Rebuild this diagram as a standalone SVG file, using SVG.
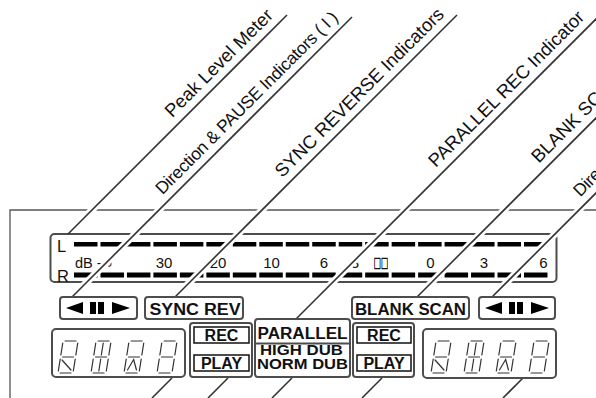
<svg xmlns="http://www.w3.org/2000/svg" width="596" height="398" viewBox="0 0 596 398">
<defs>
<style>
.lbl{font-family:"Liberation Sans",Arial,sans-serif;font-size:18.5px;fill:#111}
.lbl2{font-family:"Liberation Sans",Arial,sans-serif;font-size:17.5px;fill:#111}
.bx{fill:#fff;stroke:#4d4d4d;stroke-width:2}
.ib{fill:none;stroke:#111;stroke-width:1.5}
.bt{font-family:"Liberation Sans",Arial,sans-serif;font-weight:bold;font-size:16px;fill:#111;text-anchor:middle}
.bs{font-family:"Liberation Sans",Arial,sans-serif;font-weight:bold;font-size:14.5px;fill:#111;text-anchor:middle}
.sc{font-family:"Liberation Sans",Arial,sans-serif;font-size:15px;fill:#111;text-anchor:middle}
.lr{font-family:"Liberation Sans",Arial,sans-serif;font-size:16.5px;fill:#111}
.halo{stroke:#fff;stroke-width:7;fill:none}
.lead{stroke:#333;stroke-width:1.6;fill:none}
.seg{fill:none;stroke:#333;stroke-width:1.2;stroke-linecap:round}
.panel{fill:none;stroke:#555;stroke-width:1.3}
</style>
<g id="dir-icon" fill="#000">
<path d="M0,6 L17,0 V12 Z"/>
<rect x="24" y="0" width="6" height="12"/>
<rect x="32" y="0" width="6" height="12"/>
<path d="M46,0 L64,6 L46,12 Z"/>
</g>
<path id="d8" class="seg" d="M2,-32H13M0,-30V-18M15,-30V-18M2,-16H13M0,-14V-2M15,-14V-2M2,0H13"/>
</defs>

<g id="panel">
<path class="panel" d="M10,398 V210 H596"/>
</g>

<g id="meter">
<rect class="bx" x="50.5" y="234" width="506" height="48" rx="4"/>
<text class="lr" x="57" y="251.5">L</text>
<text class="lr" x="57" y="281.5">R</text>
<path fill="#000" d="M74,242h23.5v4.5h-23.5z m26.47,0h23.5v4.5h-23.5z m26.47,0h23.5v4.5h-23.5z m26.47,0h23.5v4.5h-23.5z m26.47,0h23.5v4.5h-23.5z m26.47,0h23.5v4.5h-23.5z m26.47,0h23.5v4.5h-23.5z m26.47,0h23.5v4.5h-23.5z m26.47,0h23.5v4.5h-23.5z m26.47,0h23.5v4.5h-23.5z m26.47,0h23.5v4.5h-23.5z m26.47,0h23.5v4.5h-23.5z m26.47,0h23.5v4.5h-23.5z m26.47,0h23.5v4.5h-23.5z m26.47,0h23.5v4.5h-23.5z m26.47,0h23.5v4.5h-23.5z m26.47,0h23.5v4.5h-23.5z m26.47,0h23.5v4.5h-23.5z"/>
<path fill="#000" d="M74,272.5h23.5v5h-23.5z m26.47,0h23.5v5h-23.5z m26.47,0h23.5v5h-23.5z m26.47,0h23.5v5h-23.5z m26.47,0h23.5v5h-23.5z m26.47,0h23.5v5h-23.5z m26.47,0h23.5v5h-23.5z m26.47,0h23.5v5h-23.5z m26.47,0h23.5v5h-23.5z m26.47,0h23.5v5h-23.5z m26.47,0h23.5v5h-23.5z m26.47,0h23.5v5h-23.5z m26.47,0h23.5v5h-23.5z m26.47,0h23.5v5h-23.5z m26.47,0h23.5v5h-23.5z m26.47,0h23.5v5h-23.5z m26.47,0h23.5v5h-23.5z m26.47,0h23.5v5h-23.5z"/>
<text class="sc" x="75" y="268" style="text-anchor:start;font-size:14.5px">dB -∞</text>
<text class="sc" x="164" y="268">30</text>
<text class="sc" x="218" y="268">20</text>
<text class="sc" x="271.5" y="268">10</text>
<text class="sc" x="324" y="268">6</text>
<text class="sc" x="355" y="268">3</text>
<text class="sc" transform="translate(381,268) scale(0.55,1)" x="0" y="0" style="font-family:'Noto Sans CJK SC',sans-serif;font-size:13px;fill:#000;stroke:#000;stroke-width:0.6">□□</text>
<text class="sc" x="430.5" y="268">0</text>
<text class="sc" x="484" y="268">3</text>
<text class="sc" x="543.5" y="268">6</text>
</g>

<g id="label-peak-level-meter"><text class="lbl" transform="translate(172.3,118.3) rotate(-45)">Peak Level Meter</text></g>
<g id="label-direction-pause-1"><text class="lbl2" transform="translate(162.4,195.3) rotate(-45)" textLength="250" lengthAdjust="spacing">Direction &amp; PAUSE Indicators ( I )</text></g>
<g id="label-sync-reverse"><text class="lbl" transform="translate(282.3,178.3) rotate(-45)">SYNC REVERSE Indicators</text></g>
<g id="label-parallel-rec"><text class="lbl" transform="translate(435.7,168) rotate(-45)">PARALLEL REC Indicator</text></g>
<g id="label-blank-scan"><text class="lbl" transform="translate(538.8,163.8) rotate(-45)">BLANK SCAN Indicator</text></g>
<g id="label-direction-pause-2"><text class="lbl2" transform="translate(580.2,197.5) rotate(-45)" textLength="255" lengthAdjust="spacing">Direction &amp; PAUSE Indicators ( II )</text></g>

<g id="connectors">
<g class="halo">
<path d="M287,15 L73,229"/>
<path d="M352,17 L77,292"/>
<path d="M457,15 L180,292"/>
<path d="M600,15 L301,314"/>
<path d="M620,94 L422,292"/>
<path d="M620,169 L497,292"/>
</g>
<g class="lead">
<path d="M287,15 L68,234"/>
<path d="M352,17 L72,297"/>
<path d="M457,15 L175,297"/>
<path d="M600,15 L296,319"/>
<path d="M620,94 L417,297"/>
<path d="M620,169 L492,297"/>
<path d="M172,378 L152,398"/>
<path d="M228,378 L208,398"/>
<path d="M292,378 L272,398"/>
<path d="M382,378 L362,398"/>
<path d="M523,378 L503,398"/>
</g>
</g>

<g id="dir-pause-left">
<rect class="bx" x="60" y="297" width="77" height="22" rx="3"/>
<use href="#dir-icon" x="66" y="302"/>
</g>
<g id="sync-rev">
<rect class="bx" x="145" y="297" width="98" height="22" rx="3"/>
<text class="bt" x="195" y="315" textLength="91" lengthAdjust="spacingAndGlyphs">SYNC REV</text>
</g>
<g id="blank-scan">
<rect class="bx" x="352" y="297" width="117" height="22" rx="3"/>
<text class="bt" x="410.5" y="315" textLength="111" lengthAdjust="spacingAndGlyphs">BLANK SCAN</text>
</g>
<g id="dir-pause-right">
<rect class="bx" x="479" y="297" width="76" height="22" rx="3"/>
<use href="#dir-icon" x="485" y="302"/>
</g>

<g id="lcd-left">
<rect class="bx" x="52" y="329" width="133" height="48" rx="4"/>
<g transform="translate(58,373) skewX(-9)"><use href="#d8"/><path class="seg" d="M2,-13L12.5,-3"/></g>
<g transform="translate(91,373) skewX(-9)"><use href="#d8"/><path class="seg" d="M7.5,-30V-18M7.5,-14V-2"/></g>
<g transform="translate(124,373) skewX(-9)"><use href="#d8"/><path class="seg" d="M3,-3L7.5,-13.5L12,-3"/></g>
<g transform="translate(157,373) skewX(-9)"><use href="#d8"/></g>
</g>

<g id="rec-play-left">
<rect class="bx" x="190" y="323" width="62" height="54" rx="3"/>
<rect class="ib" x="194" y="327" width="55" height="16"/>
<rect class="ib" x="194" y="355" width="55" height="16"/>
<text class="bt" x="221.5" y="340.5">REC</text>
<text class="bt" x="221.5" y="369">PLAY</text>
</g>

<g id="parallel-dub">
<rect class="bx" x="255" y="319" width="95" height="58" rx="3"/>
<path d="M256,343.5 H349" stroke="#4d4d4d" stroke-width="2"/>
<text class="bt" x="302.5" y="339" textLength="90" lengthAdjust="spacingAndGlyphs">PARALLEL</text>
<text class="bs" x="301.5" y="355" textLength="83" lengthAdjust="spacingAndGlyphs">HIGH DUB</text>
<text class="bs" x="302.5" y="369" textLength="91" lengthAdjust="spacingAndGlyphs">NORM DUB</text>
</g>

<g id="rec-play-right">
<rect class="bx" x="353" y="323" width="61" height="54" rx="3"/>
<rect class="ib" x="357" y="327" width="54" height="16"/>
<rect class="ib" x="357" y="355" width="54" height="16"/>
<text class="bt" x="384" y="340.5">REC</text>
<text class="bt" x="384" y="369">PLAY</text>
</g>

<g id="lcd-right">
<rect class="bx" x="423" y="329" width="133" height="49" rx="4"/>
<g transform="translate(431,373) skewX(-9)"><use href="#d8"/><path class="seg" d="M2,-13L12.5,-3"/></g>
<g transform="translate(464,373) skewX(-9)"><use href="#d8"/><path class="seg" d="M7.5,-30V-18M7.5,-14V-2"/></g>
<g transform="translate(496,373) skewX(-9)"><use href="#d8"/><path class="seg" d="M3,-3L7.5,-13.5L12,-3"/></g>
<g transform="translate(529,373) skewX(-9)"><use href="#d8"/></g>
</g>
</svg>
